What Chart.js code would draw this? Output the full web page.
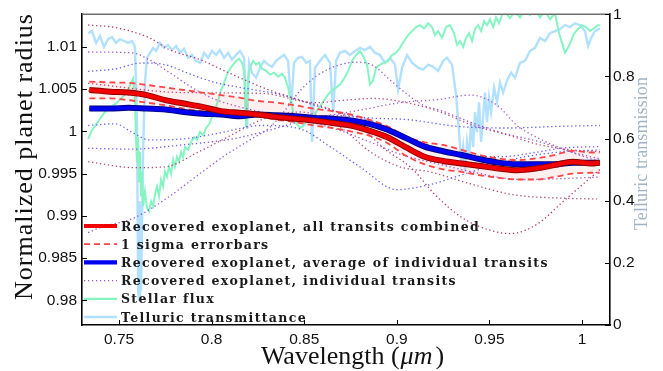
<!DOCTYPE html>
<html><head><meta charset="utf-8">
<script src="https://cdn.jsdelivr.net/npm/chart.js@4"></script>
<style>html,body{margin:0;padding:0;background:#fff}</style>
</head><body>
<canvas id="c" width="663" height="371"></canvas>
<script>
// ---------------- data ----------------
const xTicks = [0.75, 0.8, 0.85, 0.9, 0.95, 1.0];
const yTicks = [0.98, 0.985, 0.99, 0.995, 1.0, 1.005, 1.01];
const y2Ticks = [0, 0.2, 0.4, 0.6, 0.8, 1];

const xTitle = 'Wavelength (';
const xTitleUnit = 'μm';
const yTitle = 'Normalized planet radius';
const y2Title = 'Telluric transmission';

const legendLabels = [
  'Recovered exoplanet, all transits combined',
  '1 sigma errorbars',
  'Recovered exoplanet, average of individual transits',
  'Recovered exoplanet, individual transits',
  'Stellar flux',
  'Telluric transmittance'
];

const wlGrid = [0.734,0.745,0.755,0.765,0.775,0.785,0.795,0.805,0.815,0.825,0.835,0.845,0.855,0.865,0.875,0.885,0.895,0.905,0.915,0.925,0.935,0.945,0.955,0.965,0.975,0.985,0.995,1.005,1.0095];
const combined = [1.0049,1.0047,1.0046,1.0043,1.0037,1.0033,1.0029,1.0024,1.0022,1.0020,1.0017,1.0015,1.0013,1.0010,1.0007,1.0001,0.9993,0.9981,0.9970,0.9965,0.9962,0.9959,0.9956,0.9954,0.9956,0.9960,0.9964,0.9962,0.9963];
const errUpper = [1.0059,1.0058,1.00575,1.0055,1.0052,1.0049,1.0046,1.0043,1.0040,1.0036,1.0034,1.0031,1.0027,1.0024,1.0020,1.0014,1.0006,0.9994,0.9987,0.9984,0.9978,0.9972,0.9968,0.9966,0.9968,0.9972,0.9977,0.9975,0.9975];
const errLower = [1.0039,1.0039,1.0037,1.0034,1.0031,1.0027,1.0024,1.0021,1.0020,1.0018,1.0014,1.0011,1.0007,1.0004,1.0000,0.9995,0.9986,0.9971,0.9961,0.9955,0.9952,0.9948,0.9945,0.9943,0.9943,0.9946,0.9950,0.9951,0.9951];
const average = [1.0027,1.0027,1.0028,1.0027,1.0026,1.0023,1.0021,1.0020,1.0018,1.0020,1.0019,1.0018,1.0016,1.0015,1.0013,1.0009,1.0002,0.9992,0.9982,0.99765,0.9972,0.9967,0.9963,0.9961,0.9961,0.9961,0.9963,0.9963,0.9963];

// individual transits
const t1Wl = [0.7333,0.7478,0.7662,0.7770,0.7937,0.8116,0.8299,0.8477,0.8656,0.8774,0.8936,0.9082,0.9206,0.9358,0.9503,0.9611,0.9757,0.9898,1.0097];
const t1 = [1.0126,1.0123,1.0111,1.0097,1.0085,1.0067,1.0050,1.0037,1.0025,1.0011,0.9979,0.9956,0.9925,0.9897,0.9883,0.9879,0.9890,0.9917,0.9955];
const t2Wl = [0.7333,0.7570,0.7662,0.7770,0.7894,0.8018,0.8207,0.8423,0.8639,0.8855,0.9017,0.9233,0.9449,0.9665,0.9881,1.0097];
const t2 = [1.0094,1.0093,1.0085,1.0070,1.0052,1.0038,1.0026,1.0016,1.0005,0.99875,0.9973,0.9961,0.9950,0.9943,0.9944,0.9946];
const t3Wl = [0.7333,0.7478,0.7624,0.7748,0.7894,0.8018,0.8207,0.8386,0.8585,0.8801,0.9055,0.9325,0.9595,0.9881,1.0097];
const t3 = [1.0071,1.0074,1.0081,1.0079,1.0067,1.0058,1.0050,1.0043,1.0029,1.0017,1.0014,1.0006,1.0004,1.0006,1.0007];
const t4Wl = [0.7333,0.7840,0.8272,0.8558,0.8720,0.8872,0.9055,0.9233,0.9412,0.9595,0.9773,0.9952,1.0097];
const t4 = [1.0057,1.0046,1.0045,1.0034,1.0037,1.0039,1.0034,1.0023,1.0007,0.9996,0.9984,0.9978,0.9976];
const t5Wl = [0.7333,0.7478,0.7570,0.7662,0.7840,0.8018,0.8272,0.8477,0.8639,0.8801,0.9001,0.9179,0.9358,0.9649,0.9898,1.0097];
const t5 = [1.0007,1.0009,0.9999,0.9990,0.9991,0.9997,1.0007,1.0003,0.9982,0.9958,0.9931,0.9937,0.9949,0.9968,0.9976,0.9978];
const t6Wl = [0.7333,0.7570,0.7840,0.8110,0.8272,0.8467,0.8639,0.8855,0.9125,0.9341,0.9557,0.9773,0.9881,1.0097];
const t6 = [0.9980,0.9979,0.9984,0.9991,0.9999,1.0011,1.0019,1.0013,0.99875,0.9973,0.9970,0.9976,0.9980,0.9982];
const t7Wl = [0.7333,0.7586,0.7748,0.7932,0.8110,0.8272,0.8477,0.8693,0.8855,0.9017,0.9179,0.9395,0.9628,0.9881,1.0081];
const t7 = [0.9964,0.9957,0.9958,0.9976,0.9996,1.0014,1.0023,1.0005,0.9976,0.9958,0.9952,0.9938,0.9925,0.9921,0.9920];
const t8Wl = [0.7333,0.7397,0.7576,0.7759,0.7937,0.8062,0.8207,0.8315,0.8396,0.8477,0.8569,0.8693,0.8785,0.8872,0.8963,0.9055,0.9142,0.9233,0.9395,0.9557,0.9773,0.9935,1.0097];
const t8 = [0.9880,0.9886,0.9897,0.9921,0.9950,0.9970,0.9990,1.0005,1.0025,1.0048,1.0066,1.0079,1.0082,1.0078,1.0061,1.0044,1.0031,1.0025,1.0011,0.9999,0.99875,0.9976,0.99675];
const t9Wl = [0.7333,0.7667,0.7937,0.8261,0.8477,0.8747,0.9017,0.9233,0.9395,0.9541,0.9649,0.9773,0.9935,1.0097];
const t9 = [1.0048,1.0040,1.0029,1.0019,1.0016,1.0023,1.0034,1.0038,1.0043,1.0031,1.0007,0.9991,0.9976,0.9964];

// telluric transmittance (right axis)
const tellWl = [
 0.7333,0.7354,0.7376,0.7397,0.7419,0.7441,0.7462,0.7484,0.7505,0.7527,
 0.7549,0.7570,0.7586,0.7597,0.7603,0.7608,0.7613,0.7619,0.7630,0.7640,
 0.7651,0.7667,0.7684,0.7700,0.7721,0.7743,0.7765,0.7786,0.7808,0.7829,
 0.7851,0.7873,0.7894,0.7916,0.7937,0.7959,0.7981,0.8002,0.8024,0.8045,
 0.8067,0.8089,0.8110,0.8132,0.8153,0.8175,0.8191,0.8202,0.8218,0.8240,
 0.8261,0.8283,0.8305,0.8326,0.8348,0.8369,0.8391,0.8413,0.8429,0.8445,
 0.8467,0.8488,0.8510,0.8531,0.8542,0.8558,0.8585,0.8612,0.8639,0.8656,
 0.8672,0.8693,0.8720,0.8747,0.8774,0.8801,0.8828,0.8855,0.8882,0.8909,
 0.8936,0.8963,0.8990,0.9007,0.9028,0.9055,0.9082,0.9115,0.9142,0.9169,
 0.9196,0.9223,0.9250,0.9271,0.9298,0.9320,0.9336,0.9347,0.9358,0.9368,
 0.9379,0.9390,0.9401,0.9412,0.9422,0.9433,0.9444,0.9455,0.9466,0.9476,
 0.9487,0.9498,0.9509,0.9525,0.9541,0.9557,0.9574,0.9595,0.9617,0.9638,
 0.9665,0.9692,0.9719,0.9746,0.9773,0.9800,0.9827,0.9854,0.9881,0.9908,
 0.9935,0.9962,0.9989,1.0016,1.0033,1.0049,1.0070,1.0097];
const tellVal = [
 .939,.946,.908,.930,.895,.920,.927,.908,.920,.914,
 .908,.914,.895,.653,.111,.080,.398,.111,.557,.780,
 .860,.876,.892,.882,.908,.892,.901,.885,.898,.876,
 .889,.860,.869,.850,.844,.876,.860,.882,.869,.885,
 .860,.876,.854,.869,.882,.860,.631,.844,.812,.796,
 .828,.850,.838,.831,.850,.860,.869,.850,.707,.844,
 .860,.863,.844,.850,.589,.828,.850,.869,.844,.685,
 .850,.876,.882,.869,.882,.892,.885,.895,.876,.869,
 .844,.860,.838,.758,.828,.869,.844,.828,.822,.838,
 .831,.818,.850,.860,.838,.739,.621,.525,.573,.494,
 .589,.541,.653,.573,.685,.621,.717,.589,.669,.748,
 .653,.732,.685,.764,.717,.780,.748,.787,.812,.796,
 .844,.850,.882,.892,.924,.914,.939,.946,.952,.965,
 .959,.971,.965,.946,.898,.924,.946,.955];

// stellar flux (right axis)
const starWl = [
 0.7333,0.7354,0.7376,0.7392,0.7414,0.7430,0.7446,0.7468,0.7484,0.7500,
 0.7516,0.7532,0.7549,0.7565,0.7576,0.7586,0.7592,0.7597,0.7603,0.7608,
 0.7613,0.7619,0.7624,0.7630,0.7640,0.7651,0.7662,0.7673,0.7684,0.7694,
 0.7705,0.7716,0.7727,0.7738,0.7748,0.7759,0.7770,0.7781,0.7792,0.7802,
 0.7813,0.7824,0.7835,0.7846,0.7856,0.7873,0.7889,0.7905,0.7921,0.7937,
 0.7954,0.7970,0.7986,0.8002,0.8018,0.8035,0.8051,0.8067,0.8083,0.8099,
 0.8116,0.8132,0.8148,0.8164,0.8175,0.8186,0.8197,0.8207,0.8224,0.8240,
 0.8256,0.8272,0.8294,0.8315,0.8337,0.8359,0.8380,0.8396,0.8413,0.8423,
 0.8434,0.8445,0.8461,0.8477,0.8494,0.8510,0.8526,0.8542,0.8564,0.8585,
 0.8607,0.8629,0.8650,0.8672,0.8693,0.8715,0.8737,0.8758,0.8780,0.8801,
 0.8823,0.8839,0.8855,0.8872,0.8888,0.8909,0.8931,0.8953,0.8974,0.8996,
 0.9017,0.9039,0.9061,0.9082,0.9104,0.9125,0.9147,0.9169,0.9190,0.9206,
 0.9223,0.9244,0.9266,0.9287,0.9309,0.9325,0.9341,0.9358,0.9374,0.9390,
 0.9406,0.9422,0.9439,0.9455,0.9471,0.9487,0.9503,0.9520,0.9536,0.9552,
 0.9568,0.9584,0.9611,0.9638,0.9665,0.9692,0.9719,0.9746,0.9773,0.9800,
 0.9827,0.9854,0.9876,0.9892,0.9908,0.9924,0.9941,0.9957,0.9978,0.9999,
 1.0021,1.0043,1.0065,1.0086,1.0097];
const starVal = [
 .599,.627,.646,.659,.678,.691,.697,.707,.713,.723,
 .732,.742,.755,.780,.793,.717,.589,.525,.605,.462,
 .557,.414,.494,.382,.430,.376,.366,.398,.382,.420,
 .446,.414,.468,.446,.494,.478,.510,.487,.532,.510,
 .541,.525,.557,.541,.573,.564,.589,.605,.596,.621,
 .611,.634,.646,.669,.691,.723,.755,.780,.806,.825,
 .838,.850,.857,.844,.818,.637,.796,.828,.850,.838,
 .844,.825,.818,.806,.812,.799,.809,.796,.764,.732,
 .710,.659,.646,.634,.640,.653,.659,.666,.685,.704,
 .723,.742,.755,.764,.774,.793,.818,.850,.869,.882,
 .860,.838,.774,.787,.828,.838,.844,.850,.869,.876,
 .892,.914,.933,.946,.959,.965,.955,.971,.959,.933,
 .946,.924,.959,.965,.939,.901,.914,.895,.924,.939,
 .914,.952,.965,.946,.978,.965,.984,.959,.990,.971,
 .997,1.010,.987,1.010,.990,1.016,.997,1.019,.990,1.010,
 .984,1.003,.939,.908,.876,.892,.914,.939,.952,.965,
 .959,.946,.955,.965,.965];

// ---------------- chart ----------------
const pts = (xs, ys) => xs.map((x, i) => ({x: x, y: ys[i]})).filter(p => p.y !== undefined);

const C = {
  red: '#f00000', redEdge: '#8a0000', dash: '#ff4545', fill: 'rgba(255,60,60,0.08)',
  blue: '#0000f0', blueEdge: '#00007a', green: '#86f5c2', tell: '#b2e0ff'
};
const dotCols = ['#b0386c', '#9a55d0', '#5b5bf2', '#c2456f', '#6262f0', '#7c55e2', '#b04878', '#9255d2', '#a25ac8'];
const tWl = [t1Wl, t2Wl, t3Wl, t4Wl, t5Wl, t6Wl, t7Wl, t8Wl, t9Wl];
const tVal = [t1, t2, t3, t4, t5, t6, t7, t8, t9];

const datasets = [];
datasets.push({label: legendLabels[5], data: pts(tellWl, tellVal), yAxisID: 'y2', borderColor: C.tell, borderWidth: 2.4, order: 20, tension: 0});
datasets.push({label: legendLabels[4], data: pts(starWl, starVal), yAxisID: 'y2', borderColor: C.green, borderWidth: 2, order: 19, tension: 0});
tVal.forEach((v, i) => datasets.push({label: legendLabels[3], data: pts(tWl[i], v), yAxisID: 'y', borderColor: dotCols[i], borderWidth: 1.3, borderDash: [1.3, 2.7], order: 10, cubicInterpolationMode: 'monotone'}));
datasets.push({label: legendLabels[1], data: pts(wlGrid, errUpper), yAxisID: 'y', borderColor: C.dash, borderWidth: 1.8, borderDash: [6, 4], fill: '+1', backgroundColor: C.fill, order: 5, cubicInterpolationMode: 'monotone'});
datasets.push({label: legendLabels[1], data: pts(wlGrid, errLower), yAxisID: 'y', borderColor: C.dash, borderWidth: 1.8, borderDash: [6, 4], fill: false, order: 5, cubicInterpolationMode: 'monotone'});
datasets.push({label: '', data: pts(wlGrid, average), yAxisID: 'y', borderColor: C.blueEdge, borderWidth: 6, order: 4, cubicInterpolationMode: 'monotone'});
datasets.push({label: legendLabels[2], data: pts(wlGrid, average), yAxisID: 'y', borderColor: C.blue, borderWidth: 4.2, order: 3, cubicInterpolationMode: 'monotone'});
datasets.push({label: '', data: pts(wlGrid, combined), yAxisID: 'y', borderColor: C.redEdge, borderWidth: 6, order: 2, cubicInterpolationMode: 'monotone'});
datasets.push({label: legendLabels[0], data: pts(wlGrid, combined), yAxisID: 'y', borderColor: C.red, borderWidth: 4.2, order: 1, cubicInterpolationMode: 'monotone'});

const tickFont = {family: "'Liberation Sans', Arial, sans-serif", size: 15.5};
const fmt = v => String(+(+v).toFixed(3));

function spaced(ctx, txt, x, y, target, align) {
  if ('letterSpacing' in ctx) ctx.letterSpacing = '0px';
  const w = ctx.measureText(txt).width;
  let ls = 0;
  if (target && 'letterSpacing' in ctx) {
    ls = Math.max(-1, Math.min(4, (target - w) / txt.length));
    ctx.letterSpacing = ls + 'px';
  }
  const total = w + ls * txt.length;
  ctx.textAlign = 'left';
  const x0 = align === 'center' ? x - total / 2 : x;
  ctx.fillText(txt, x0, y);
  if ('letterSpacing' in ctx) ctx.letterSpacing = '0px';
  return total;
}

const deco = {
  id: 'deco',
  afterDraw(chart) {
    const {ctx, chartArea: a, scales} = chart;
    ctx.save();
    // top frame line
    ctx.strokeStyle = '#6e6e6e'; ctx.lineWidth = 1.6;
    ctx.beginPath(); ctx.moveTo(a.left, a.top); ctx.lineTo(a.right, a.top); ctx.stroke();
    // inward ticks
    ctx.strokeStyle = '#000'; ctx.lineWidth = 1;
    ctx.beginPath();
    xTicks.forEach(v => { const p = Math.round(scales.x.getPixelForValue(v)) + 0.5; ctx.moveTo(p, a.bottom); ctx.lineTo(p, a.bottom - 5); });
    yTicks.forEach(v => { const p = Math.round(scales.y.getPixelForValue(v)) + 0.5; ctx.moveTo(a.left, p); ctx.lineTo(a.left + 5, p); });
    y2Ticks.forEach(v => { const p = Math.round(scales.y2.getPixelForValue(v)) + 0.5; ctx.moveTo(a.right, p); ctx.lineTo(a.right - 5, p); });
    ctx.stroke();

    // legend
    const rowY = [230.5, 248.7, 266.9, 285.1, 303.3, 321.5];
    const lx0 = a.left + 2, lx1 = a.left + 35, tx = a.left + 39;
    const styles = [
      {c: C.red, w: 4.2, d: []},
      {c: C.dash, w: 1.8, d: [6, 4]},
      {c: C.blue, w: 4.2, d: []},
      {c: '#9a55d0', w: 1.2, d: [1.2, 2.8]},
      {c: C.green, w: 2.2, d: []},
      {c: C.tell, w: 2.6, d: []}
    ];
    ctx.font = "bold 12.5px 'DejaVu Serif', 'Liberation Serif', serif";
    if ('letterSpacing' in ctx) ctx.letterSpacing = '0px';
    const w0 = ctx.measureText(legendLabels[0]).width;
    const ls = Math.max(0, Math.min(4, (359 - w0) / legendLabels[0].length));
    legendLabels.forEach((lab, i) => {
      const s = styles[i];
      const ly = rowY[i] - 4.5;
      ctx.strokeStyle = s.c; ctx.lineWidth = s.w; ctx.setLineDash(s.d);
      ctx.beginPath(); ctx.moveTo(lx0, ly); ctx.lineTo(lx1, ly); ctx.stroke();
      ctx.setLineDash([]);
      ctx.fillStyle = '#1a1a1a'; ctx.textBaseline = 'alphabetic'; ctx.textAlign = 'left';
      if ('letterSpacing' in ctx) ctx.letterSpacing = ls + 'px';
      ctx.fillText(lab, tx, rowY[i]);
      if ('letterSpacing' in ctx) ctx.letterSpacing = '0px';
    });

    // axis titles
    ctx.fillStyle = '#111';
    ctx.textBaseline = 'alphabetic';
    ctx.font = "26px 'Liberation Serif', serif";
    const p1 = ctx.measureText(xTitle).width;
    ctx.font = "italic 26px 'Liberation Serif', serif";
    const p2 = ctx.measureText(xTitleUnit).width;
    ctx.font = "26px 'Liberation Serif', serif";
    const p3 = ctx.measureText(')').width;
    const total = p1 + p2 + p3 + 4;
    let xs = 352.5 - total / 2;
    ctx.textAlign = 'left';
    ctx.fillText(xTitle, xs, 364); xs += p1 + 1;
    ctx.font = "italic 26px 'Liberation Serif', serif";
    ctx.fillText(xTitleUnit, xs, 364); xs += p2 + 3;
    ctx.font = "26px 'Liberation Serif', serif";
    ctx.fillText(')', xs, 364);

    // left title
    ctx.save();
    ctx.translate(32, 156.5); ctx.rotate(-Math.PI / 2);
    ctx.font = "26px 'Liberation Serif', serif";
    spaced(ctx, yTitle, 0, 0, 287, 'center');
    ctx.restore();

    // right title
    ctx.save();
    ctx.translate(647, 153.5); ctx.rotate(-Math.PI / 2);
    ctx.fillStyle = '#9fb5c6';
    ctx.font = "18px 'Liberation Serif', serif";
    spaced(ctx, y2Title, 0, 0, 153, 'center');
    ctx.restore();
    ctx.restore();
  }
};

new Chart(document.getElementById('c'), {
  type: 'line',
  data: {datasets: datasets},
  options: {
    responsive: false, animation: false, devicePixelRatio: 1,
    layout: {padding: {top: 11, left: 0, right: 0, bottom: 0}},
    plugins: {legend: {display: false}, tooltip: {enabled: false}},
    elements: {point: {radius: 0}, line: {borderCapStyle: 'butt'}},
    scales: {
      x: {
        type: 'linear', position: 'bottom', min: 0.73, max: 1.0151,
        afterBuildTicks: s => { s.ticks = xTicks.map(v => ({value: v})); },
        afterFit: s => { s.height = 46; },
        grid: {display: false, drawTicks: false},
        border: {display: true, color: '#000', width: 1.6},
        ticks: {padding: 5, color: '#111', font: tickFont, maxRotation: 0, callback: fmt}
      },
      y: {
        type: 'linear', position: 'left', min: 0.97707, max: 1.013867,
        afterBuildTicks: s => { s.ticks = yTicks.map(v => ({value: v})); },
        afterFit: s => { s.width = 82; },
        grid: {display: false, drawTicks: false},
        border: {display: true, color: '#000', width: 1.6},
        ticks: {padding: 5, color: '#111', font: tickFont, callback: fmt}
      },
      y2: {
        type: 'linear', position: 'right', min: 0, max: 1,
        afterBuildTicks: s => { s.ticks = y2Ticks.map(v => ({value: v})); },
        afterFit: s => { s.width = 53; },
        grid: {display: false, drawTicks: false},
        border: {display: true, color: '#000', width: 1.6},
        ticks: {padding: 3, color: '#111', font: tickFont, callback: fmt}
      }
    }
  },
  plugins: [deco]
});
</script>
</body></html>
